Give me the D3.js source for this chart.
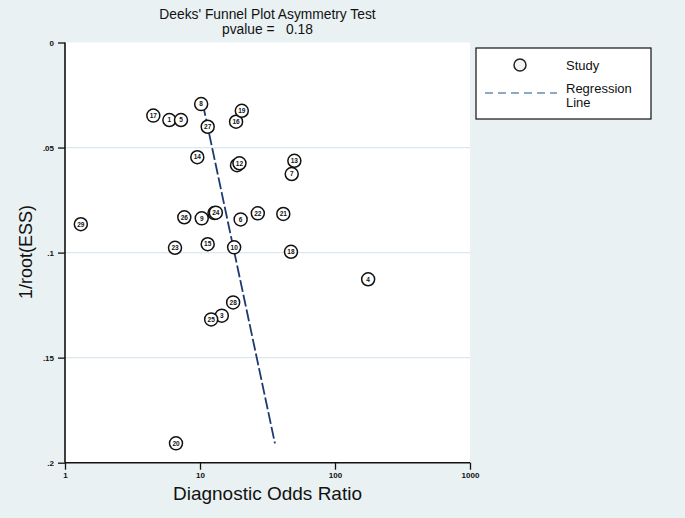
<!DOCTYPE html>
<html><head><meta charset="utf-8">
<script src="https://cdn.jsdelivr.net/npm/d3@7"></script>
<style>body{margin:0;background:#e9f1f3;} svg{display:block;font-family:"Liberation Sans",Arial,sans-serif;}</style>
</head><body>
<script>
const studyIds = [1,2,3,4,5,6,7,8,9,10,11,12,13,14,15,16,17,18,19,20,21,22,23,24,25,26,27,28,29];
const dorValues = [5.93,18.8,14.5,176,7.23,20.0,47.8,10.2,10.3,17.9,12.8,19.6,50.0,9.55,11.4,18.5,4.51,47.2,20.4,6.64,41.4,26.8,6.53,13.1,12.1,7.65,11.4,17.6,1.31];
const invRootEss = [0.0369,0.0584,0.130,0.1127,0.0369,0.0842,0.0626,0.0293,0.0837,0.0975,0.0812,0.0575,0.0563,0.0546,0.096,0.0377,0.0348,0.0996,0.0325,0.1908,0.0816,0.0813,0.0977,0.081,0.1318,0.0832,0.0401,0.1237,0.0865];
const regDor = [10.5, 35.9];
const regY = [0.0293, 0.1908];
const xTicks = [1,10,100,1000];
const yTicks = [0,0.05,0.1,0.15,0.2];
const yTickLabels = ["0",".05",".1",".15",".2"];
const gridTicks = [0.05,0.1,0.15];

const W=685,H=518;
const svg=d3.select("body").append("svg").attr("width",W).attr("height",H);
svg.append("rect").attr("width",W).attr("height",H).attr("fill","#e9f1f3");
const x=d3.scaleLog().domain([1,1000]).range([65,470]);
const y=d3.scaleLinear().domain([0,0.2]).range([42.5,462.7]);

svg.append("rect").attr("x",65).attr("y",42.5).attr("width",405).attr("height",420.2).attr("fill","#ffffff");
svg.selectAll(".grid").data(gridTicks).enter().append("line")
 .attr("x1",65).attr("x2",470).attr("y1",d=>y(d)).attr("y2",d=>y(d))
 .attr("stroke","#dce8ee").attr("stroke-width",1.2);

// axes
const yAxis=d3.axisLeft(y).tickValues(yTicks).tickFormat((d,i)=>yTickLabels[i]).tickSize(7).tickPadding(4);
const gy=svg.append("g").attr("transform","translate(65,0)").call(yAxis);
const xAxis=d3.axisBottom(x).tickValues(xTicks).tickFormat(d3.format("d")).tickSize(7).tickPadding(3);
const gx=svg.append("g").attr("transform","translate(0,462.7)").call(xAxis);
[gx,gy].forEach(g=>{
  g.select(".domain").attr("stroke","#111").attr("stroke-width",1.6);
  g.selectAll(".tick line").attr("stroke","#111").attr("stroke-width",1.3);
  g.selectAll(".tick text").attr("font-size",8).attr("font-weight","bold").attr("fill","#111").attr("font-family","Liberation Sans,Arial,sans-serif");
});
gx.select(".domain").attr("d","M65,0H470");
gy.select(".domain").attr("d","M0,42.5V462.7");

// regression line
svg.append("line").attr("x1",x(regDor[0])).attr("y1",y(regY[0])).attr("x2",x(regDor[1])).attr("y2",y(regY[1]))
 .attr("stroke","#1c3a70").attr("stroke-width",1.8).attr("stroke-dasharray","12,3");

// points
const pts=studyIds.map((id,i)=>({id,v:dorValues[i],e:invRootEss[i]}));
const g=svg.append("g");
const pg=g.selectAll("g").data(pts).enter().append("g").attr("transform",d=>`translate(${x(d.v)},${y(d.e)})`);
pg.append("circle").attr("r",6.5).attr("fill","#fff").attr("stroke","#111").attr("stroke-width",1.5);
pg.append("text").text(d=>d.id).attr("text-anchor","middle").attr("dy","0.35em").attr("font-size",6.5).attr("font-weight","bold").attr("fill","#111");

// titles
svg.append("text").attr("x",267.5).attr("y",19).attr("text-anchor","middle").attr("font-size",13.8).attr("fill","#111").text("Deeks' Funnel Plot Asymmetry Test");
svg.append("text").attr("x",267.5).attr("y",34).attr("text-anchor","middle").attr("font-size",13.8).attr("fill","#111").attr("xml:space","preserve").text("pvalue =   0.18");
svg.append("text").attr("x",267.5).attr("y",500).attr("text-anchor","middle").attr("font-size",19).attr("fill","#111").text("Diagnostic Odds Ratio");
svg.append("text").attr("transform","translate(32,252) rotate(-90)").attr("text-anchor","middle").attr("font-size",18).attr("fill","#111").text("1/root(ESS)");

// legend
svg.append("rect").attr("x",476).attr("y",48).attr("width",175).attr("height",71).attr("fill","#fff").attr("stroke","#111").attr("stroke-width",1.2);
svg.append("circle").attr("cx",520).attr("cy",65).attr("r",6).attr("fill","#f4f4f4").attr("stroke","#222").attr("stroke-width",1.5);
svg.append("text").attr("x",566).attr("y",70).attr("font-size",13).attr("fill","#111").text("Study");
svg.append("line").attr("x1",485).attr("x2",557).attr("y1",93).attr("y2",93).attr("stroke","#6a8db0").attr("stroke-width",1.5).attr("stroke-dasharray","8,5");
svg.append("text").attr("x",566).attr("y",93).attr("font-size",13).attr("fill","#111").text("Regression");
svg.append("text").attr("x",566).attr("y",107).attr("font-size",13).attr("fill","#111").text("Line");
</script>
</body></html>
